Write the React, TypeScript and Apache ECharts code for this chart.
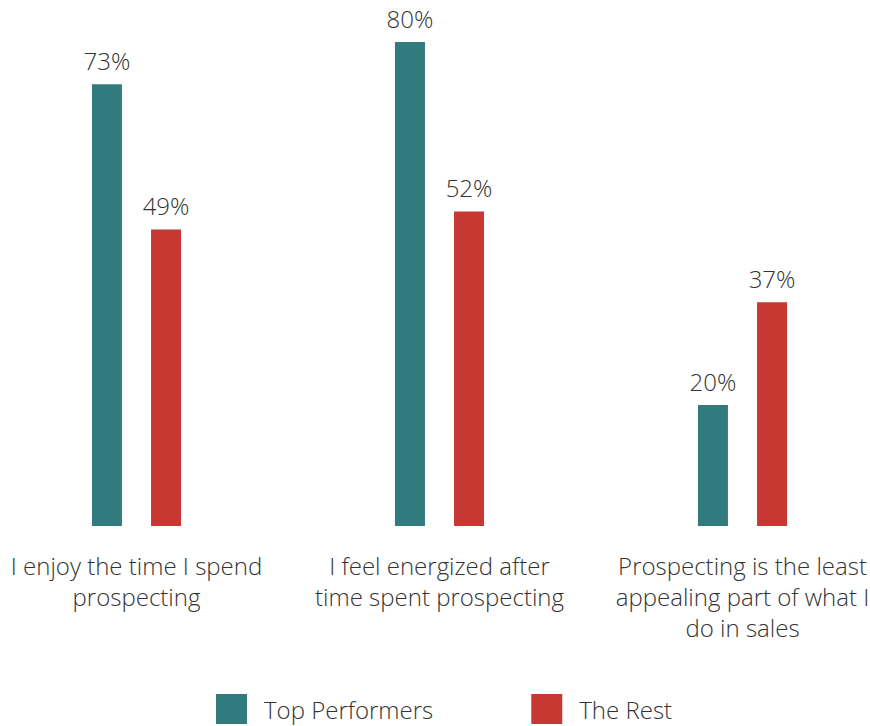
import React, { useEffect, useRef } from "react";
import * as echarts from "echarts";

const categories = [
  "I enjoy the time I spend\nprospecting",
  "I feel energized after\ntime spent prospecting",
  "Prospecting is the least\nappealing part of what I\ndo in sales",
];
const topPerformers = [73, 80, 20];
const theRest = [49, 52, 37];
const seriesNames = ["Top Performers", "The Rest"];

const FONT = "'Open Sans', sans-serif";

export default function App() {
  const ref = useRef<HTMLDivElement>(null);
  useEffect(() => {
    document.body.style.margin = "0";
    const chart = echarts.init(ref.current!, null, { renderer: "svg" });
    const label = {
      show: true,
      position: "top" as const,
      distance: 12,
      formatter: "{c}%",
      fontFamily: FONT,
      fontWeight: 300,
      fontSize: 24,
      color: "#333333",
    };
    chart.setOption({
      animation: false,
      grid: { left: 0, right: 0, top: 42, bottom: 200 },
      xAxis: {
        type: "category",
        data: categories,
        axisLine: { show: false },
        axisTick: { show: false },
        axisLabel: {
          interval: 0,
          margin: 24,
          fontFamily: FONT,
          fontWeight: 300,
          fontSize: 24,
          lineHeight: 31,
          color: "#333333",
        },
      },
      yAxis: {
        type: "value",
        min: 0,
        max: 80,
        show: false,
        splitLine: { show: false },
      },
      legend: {
        bottom: 2,
        left: 231,
        padding: 0,
        itemWidth: 31,
        itemHeight: 30,
        itemGap: 98,
        icon: "rect",
        textStyle: {
          fontFamily: FONT,
          fontWeight: 300,
          fontSize: 24,
          color: "#333333",
          padding: [0, 0, 0, 12],
        },
        data: seriesNames,
      },
      series: [
        {
          name: seriesNames[0],
          type: "bar",
          data: topPerformers,
          barWidth: 30,
          barGap: "97%",
          itemStyle: { color: "#317b7f" },
          label,
        },
        {
          name: seriesNames[1],
          type: "bar",
          data: theRest,
          barWidth: 30,
          itemStyle: { color: "#c73832" },
          label,
        },
      ],
    });
    return () => chart.dispose();
  }, []);
  return (
    <div style={{ width: 870, height: 726, overflow: "hidden", position: "relative" }}>
      <div ref={ref} style={{ position: "absolute", left: -15, top: 0, width: 909, height: 726 }} />
    </div>
  );
}
